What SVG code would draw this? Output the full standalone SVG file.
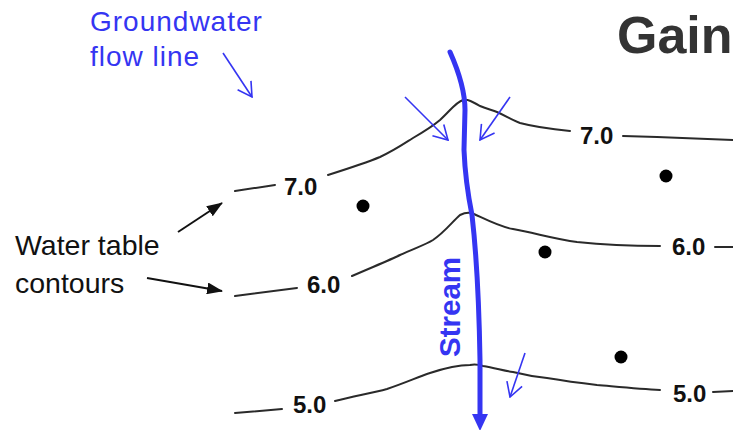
<svg xmlns="http://www.w3.org/2000/svg" width="733" height="430" viewBox="0 0 733 430">
<style>
.contour{fill:none;stroke:#2a2a2a;stroke-width:2;stroke-linecap:round}
.lbl{font-family:"Liberation Sans",Arial,sans-serif;font-weight:bold;font-size:24px;fill:#111}
.note{font-family:"Liberation Sans",Arial,sans-serif;font-size:28.5px;fill:#111}
.blue{font-family:"Liberation Sans",Arial,sans-serif;font-size:28px;fill:#3535f2;letter-spacing:1px}
.flow{fill:none;stroke:#3535f2;stroke-width:1.6;marker-end:url(#open)}
.ptr{fill:none;stroke:#111;stroke-width:2;marker-end:url(#solid)}
.dot{fill:#000}
</style>
<defs>
<marker id="open" markerUnits="userSpaceOnUse" viewBox="0 0 16 18" markerWidth="16" markerHeight="18" refX="15" refY="9" orient="auto">
<path d="M1,1 L15,9 L1,17" fill="none" stroke="#3535f2" stroke-width="1.6"/>
</marker>
<marker id="solid" markerUnits="userSpaceOnUse" viewBox="0 0 16 12" markerWidth="16" markerHeight="12" refX="15" refY="6" orient="auto">
<path d="M0,0 L16,6 L0,12 z" fill="#111"/>
</marker>
<marker id="streamhead" markerUnits="userSpaceOnUse" viewBox="0 0 17 16" markerWidth="17" markerHeight="16" refX="0" refY="8" orient="auto">
<path d="M0,0 L17,8 L0,16 z" fill="#3535f2"/>
</marker>
</defs>
<rect width="733" height="430" fill="#fff"/>

<g id="title">
<text x="617" y="53" font-family="Liberation Sans, Arial, sans-serif" font-weight="bold" font-size="52" fill="#333">Gain</text>
</g>

<g id="groundwater-label">
<text class="blue" x="90" y="31">Groundwater</text>
<text class="blue" x="90" y="66">flow line</text>
</g>

<g id="water-table-label">
<text class="note" x="15" y="255">Water table</text>
<text class="note" x="15" y="293">contours</text>
</g>

<g id="contour-7">
<path class="contour" d="M235,191 L275,185"/>
<path class="contour" d="M328,175 C350,168 368,162 380,157 C395,150 405,143 413,138 C425,131 433,126 440,120 C450,111 456,102 463,100 C468,99 473,102 480,106 C487,109 492,110 497,112 C506,116 512,120 520,123 C535,127 550,129 570,131"/>
<path class="contour" d="M623,136 C660,137 700,139 733,140"/>
<text class="lbl" x="284" y="195">7.0</text>
<text class="lbl" x="580" y="144">7.0</text>
</g>

<g id="contour-6">
<path class="contour" d="M235,296 L297,288"/>
<path class="contour" d="M352,276 C375,266 390,260 400,255 C415,248 425,245 433,240 C445,232 452,222 460,215 C464,213 470,212 474,214 C485,219 500,227 513,229 C535,233 555,239 577,242 C605,245 635,246 660,246"/>
<path class="contour" d="M715,247 L733,247"/>
<text class="lbl" x="307" y="293">6.0</text>
<text class="lbl" x="672" y="255">6.0</text>
</g>

<g id="contour-5">
<path class="contour" d="M235,413 L282,409"/>
<path class="contour" d="M335,401 C355,396 372,393 387,389 C405,383 418,377 430,373 C445,368 460,365 470,365 C475,364 480,365 483,366 C495,368 505,371 513,372 C525,375 537,377 547,378 C565,381 580,383 597,385 C620,387 640,389 660,390"/>
<path class="contour" d="M713,392 L733,391"/>
<text class="lbl" x="293" y="413">5.0</text>
<text class="lbl" x="673" y="402">5.0</text>
</g>

<g id="wells">
<circle class="dot" cx="363" cy="206" r="6.5"/>
<circle class="dot" cx="666" cy="176" r="6.5"/>
<circle class="dot" cx="545" cy="252" r="6.5"/>
<circle class="dot" cx="621" cy="357" r="6.5"/>
</g>

<g id="stream">
<path d="M450,52 C458,70 465,90 465,110 L464,150 C465,175 468,195 472,215 C476,250 479,300 480,360 L480,414" fill="none" stroke="#3535f2" stroke-width="5" stroke-linecap="round" marker-end="url(#streamhead)"/>
<text transform="translate(460,357) rotate(-90)" font-family="Liberation Sans, Arial, sans-serif" font-weight="bold" font-size="29.5" fill="#3535f2">Stream</text>
</g>

<g id="connectors">
<path class="flow" d="M223,53 L252,97"/>
<path class="flow" d="M405,97 L448,140"/>
<path class="flow" d="M510,97 L480,140"/>
<path class="flow" d="M525,353 L510,397"/>
<path class="ptr" d="M178,232 L222,203"/>
<path class="ptr" d="M147,278 L222,291"/>
</g>
</svg>
